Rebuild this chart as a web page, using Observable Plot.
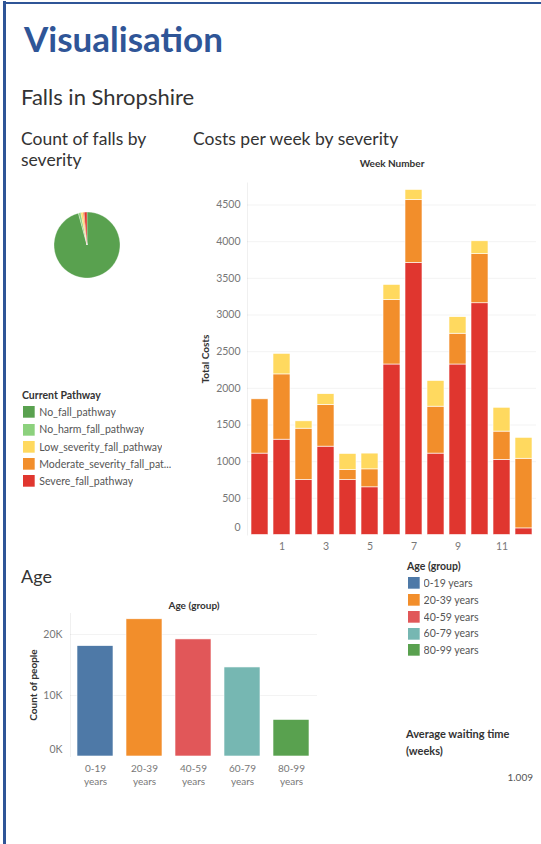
<!DOCTYPE html>
<html>
<head>
<meta charset="utf-8">
<script src="https://cdn.jsdelivr.net/npm/d3@7"></script>
<script src="https://cdn.jsdelivr.net/npm/@observablehq/plot@0.6"></script>
<style>
  html, body { margin: 0; padding: 0; background: #fff; }
  #page { position: relative; width: 541px; height: 844px; overflow: hidden; font-family: Lato, "Open Sans", sans-serif; background: #fff; }
  .abs { position: absolute; white-space: nowrap; }
  .border-left { position: absolute; left: 3px; top: 1px; width: 2.5px; height: 844px; background: #2f5597; }
  .border-top { position: absolute; left: 3px; top: 1.5px; width: 540px; height: 2px; background: #2f5597; }
  #pwLegend .pw-swatches, #ageLegend .ag-swatches { margin: 0 !important; }
  #pwLegend .pw-swatch { height: 17.2px; padding: 0 !important; margin: 0; display: flex; align-items: center; }
  #ageLegend .ag-swatch { height: 16.7px; padding: 0 !important; margin: 0; display: flex; align-items: center; }
  #pwLegend .pw-swatch > svg { margin-right: 4.3px !important; }
  #ageLegend .ag-swatch > svg { margin-right: 3.6px !important; }
</style>
</head>
<body>
<div id="page">
  <div class="border-left"></div>
  <div class="border-top"></div>
</div>
<script>
// ---------- data ----------
const pathways = ["No_fall_pathway", "No_harm_fall_pathway", "Low_severity_fall_pathway", "Moderate_severity_fall_pathway", "Severe_fall_pathway"];
const pathwayColors = ["#59a14f", "#8cd17d", "#ffd95f", "#f28e2b", "#e0362f"];
const fallCounts = [4790, 60, 50, 30, 70];

const weeks = [0, 1, 2, 3, 4, 5, 6, 7, 8, 9, 10, 11, 12];
const weekTicks = [1, 3, 5, 7, 9, 11];
const severeCost   = [1110, 1300, 750, 1205, 750, 650, 2325, 3710, 1110, 2325, 3160, 1025, 90];
const moderateCost = [740, 890, 700, 570, 135, 245, 880, 860, 640, 420, 670, 385, 950];
const lowCost      = [0, 280, 100, 145, 220, 215, 205, 135, 350, 225, 175, 325, 285];
const costTicks = [500, 1000, 1500, 2000, 2500, 3000, 3500, 4000, 4500];

const ageGroups = ["0-19 years", "20-39 years", "40-59 years", "60-79 years", "80-99 years"];
const ageCounts = [18100, 22500, 19200, 14600, 6000];
const ageColors = ["#4e79a7", "#f28e2b", "#e15759", "#76b7b2", "#59a14f"];
const ageTicks = [10000, 20000];

const avgWaiting = 1.009;

// ---------- helpers ----------
const page = document.getElementById("page");
function place(el, left, top) {
  el.style.position = "absolute";
  el.style.left = left + "px";
  el.style.top = top + "px";
  page.appendChild(el);
  return el;
}
// text placed by baseline (Lato ascent 0.987, content 1.2em)
function label(text, {x, baseline, size, weight = 400, color = "#333", lh = null, align = "left"}) {
  const d = document.createElement("div");
  d.className = "abs";
  d.style.fontSize = size + "px";
  d.style.fontWeight = weight;
  d.style.color = color;
  const L = lh ?? size * 1.2;
  d.style.lineHeight = L + "px";
  d.innerHTML = text;
  const top = baseline - ((L - 1.2 * size) / 2 + 0.987 * size);
  if (align === "right") {
    d.style.right = (541 - x) + "px";
    d.style.top = top + "px";
    d.style.textAlign = "right";
    page.appendChild(d);
    return d;
  }
  return place(d, x, top);
}

// ---------- titles ----------
label("Visualisation", {x: 24, baseline: 51.7, size: 35, weight: 700, color: "#2f5597"});
label("Falls in Shropshire", {x: 21, baseline: 106, size: 22, color: "#333"});
label("Count of falls by<br>severity", {x: 21, baseline: 145.5, size: 17.5, color: "#333", lh: 21});
label("Costs per week by severity", {x: 193, baseline: 145.5, size: 17.5, color: "#333"});
label("Age", {x: 21, baseline: 583.5, size: 18, color: "#333"});
label("Current Pathway", {x: 22, baseline: 399.8, size: 10.5, weight: 700, color: "#333"});
label("Age (group)", {x: 407, baseline: 570.5, size: 10.5, weight: 700, color: "#333"});
label("Average waiting time<br>(weeks)", {x: 406, baseline: 739, size: 11, weight: 700, color: "#333", lh: 16.7});
label(String(avgWaiting), {x: 533, baseline: 781.3, size: 10, color: "#555", align: "right"});

// ---------- pie (count of falls by severity) ----------
const pathwayScale = Plot.scale({color: {type: "ordinal", domain: pathways, range: pathwayColors}});
const pieData = pathways.map((p, i) => ({pathway: p, count: fallCounts[i]}));
const pie = Plot.plot({
  width: 160, height: 100, margin: 0,
  style: {background: "transparent"},
  marks: [
    (index, scales, values, dimensions) => {
      const g = d3.create("svg:g")
        .attr("transform", `translate(${dimensions.width / 2},${dimensions.height / 2})`);
      const arcs = d3.pie().sort(null).value(d => d.count)(pieData);
      const arc = d3.arc().innerRadius(0).outerRadius(33);
      g.selectAll("path").data(arcs).join("path")
        .attr("d", arc)
        .attr("fill", d => pathwayScale.apply(d.data.pathway))
        .attr("stroke", "#fff")
        .attr("stroke-width", 0.3);
      return g.node();
    }
  ]
});
place(pie, 7, 195);

// pathway legend
const pwLegend = Plot.legend({
  color: {type: "ordinal", domain: pathways, range: pathwayColors},
  legend: "swatches", columns: 1, swatchSize: 11.7, className: "pw",
  tickFormat: d => d.length > 26 ? d.slice(0, 26) + "..." : d,
  style: {fontFamily: "Lato", fontSize: "10.5px", color: "#555", background: "transparent"}
});
const pwWrap = document.createElement("div");
pwWrap.id = "pwLegend";
pwWrap.appendChild(pwLegend);
place(pwWrap, 23.3, 412.3 - 8.6);

// ---------- stacked bar chart ----------
const stackOrder = ["Severe_fall_pathway", "Moderate_severity_fall_pathway", "Low_severity_fall_pathway"];
const costRows = weeks.flatMap((w, i) => [
  {week: w, severity: "Severe_fall_pathway", cost: severeCost[i]},
  {week: w, severity: "Moderate_severity_fall_pathway", cost: moderateCost[i]},
  {week: w, severity: "Low_severity_fall_pathway", cost: lowCost[i]}
]);
const barChart = Plot.plot({
  width: 351, height: 414,
  marginLeft: 57, marginRight: 5, marginTop: 32.5, marginBottom: 29.5,
  style: {fontFamily: "Lato", fontSize: "10.5px", color: "#777", background: "transparent"},
  x: {type: "band", domain: weeks, paddingInner: 0.25, paddingOuter: 0.125},
  y: {domain: [0, 4800]},
  color: {domain: pathways, range: pathwayColors},
  marks: [
    Plot.gridY(costTicks, {stroke: "#000", strokeOpacity: 0.05}),
    Plot.frame({anchor: "left", stroke: "#000", strokeOpacity: 0.06}),
    Plot.barY(costRows, {x: "week", y: "cost", fill: "severity", order: stackOrder, stroke: "#fff", strokeWidth: 0.6}),
    Plot.axisY(costTicks, {tickSize: 0, tickPadding: 7, label: null, tickFormat: d => String(d), fill: "#777"}),
    Plot.axisY([0], {tickSize: 0, tickPadding: 7, label: null, tickFormat: d => String(d), dy: -7, fill: "#777"}),
    Plot.axisX(weekTicks, {tickSize: 0, tickPadding: 8, label: null, fill: "#777"}),
    Plot.text(["Week Number"], {frameAnchor: "top", lineAnchor: "middle", dy: -19.2, fontWeight: "bold", fontSize: 10, fill: "#333"}),
    Plot.text(["Total Costs"], {frameAnchor: "left", textAnchor: "middle", lineAnchor: "middle", rotate: -90, dx: -42, fontWeight: "bold", fontSize: 10, fill: "#333"})
  ]
});
place(barChart, 190, 150);

// ---------- age chart ----------
const ageRows = ageGroups.map((g, i) => ({group: g, count: ageCounts[i]}));
const ageChart = Plot.plot({
  width: 310, height: 201,
  marginLeft: 60, marginRight: 3, marginTop: 23, marginBottom: 35,
  style: {fontFamily: "Lato", fontSize: "10.5px", color: "#777", background: "transparent"},
  x: {type: "band", domain: ageGroups, paddingInner: 0.256, paddingOuter: 0.128},
  y: {domain: [0, 23450]},
  color: {domain: ageGroups, range: ageColors},
  marks: [
    Plot.gridY(ageTicks, {stroke: "#000", strokeOpacity: 0.05}),
    Plot.frame({anchor: "left", stroke: "#000", strokeOpacity: 0.06}),
    Plot.barY(ageRows, {x: "group", y: "count", fill: "group", stroke: "#fff", strokeWidth: 0.6}),
    Plot.axisY(ageTicks, {tickSize: 0, tickPadding: 8, label: null, tickFormat: d => d / 1000 + "K", fill: "#777"}),
    Plot.axisY([0], {tickSize: 0, tickPadding: 8, label: null, tickFormat: d => d / 1000 + "K", dy: -7, fill: "#777"}),
    Plot.axisX({tickSize: 0, tickPadding: 6, label: null, tickFormat: d => d.replace(" ", "\n"), lineHeight: 1.3, fontSize: 10, fill: "#777"}),
    Plot.text(["Age (group)"], {frameAnchor: "top", lineAnchor: "middle", dy: -8, fontWeight: "bold", fontSize: 10, fill: "#333"}),
    Plot.text(["Count of people"], {frameAnchor: "left", textAnchor: "middle", lineAnchor: "middle", rotate: -90, dx: -36.7, fontWeight: "bold", fontSize: 10, fill: "#333"})
  ]
});
place(ageChart, 10, 590);

// age legend
const ageLegend = Plot.legend({
  color: {type: "ordinal", domain: ageGroups, range: ageColors},
  legend: "swatches", columns: 1, swatchSize: 11.7, className: "ag",
  style: {fontFamily: "Lato", fontSize: "10.5px", color: "#555", background: "transparent"}
});
const agWrap = document.createElement("div");
agWrap.id = "ageLegend";
agWrap.appendChild(ageLegend);
place(agWrap, 408.3, 583.3 - 8.35);
</script>
</body>
</html>
